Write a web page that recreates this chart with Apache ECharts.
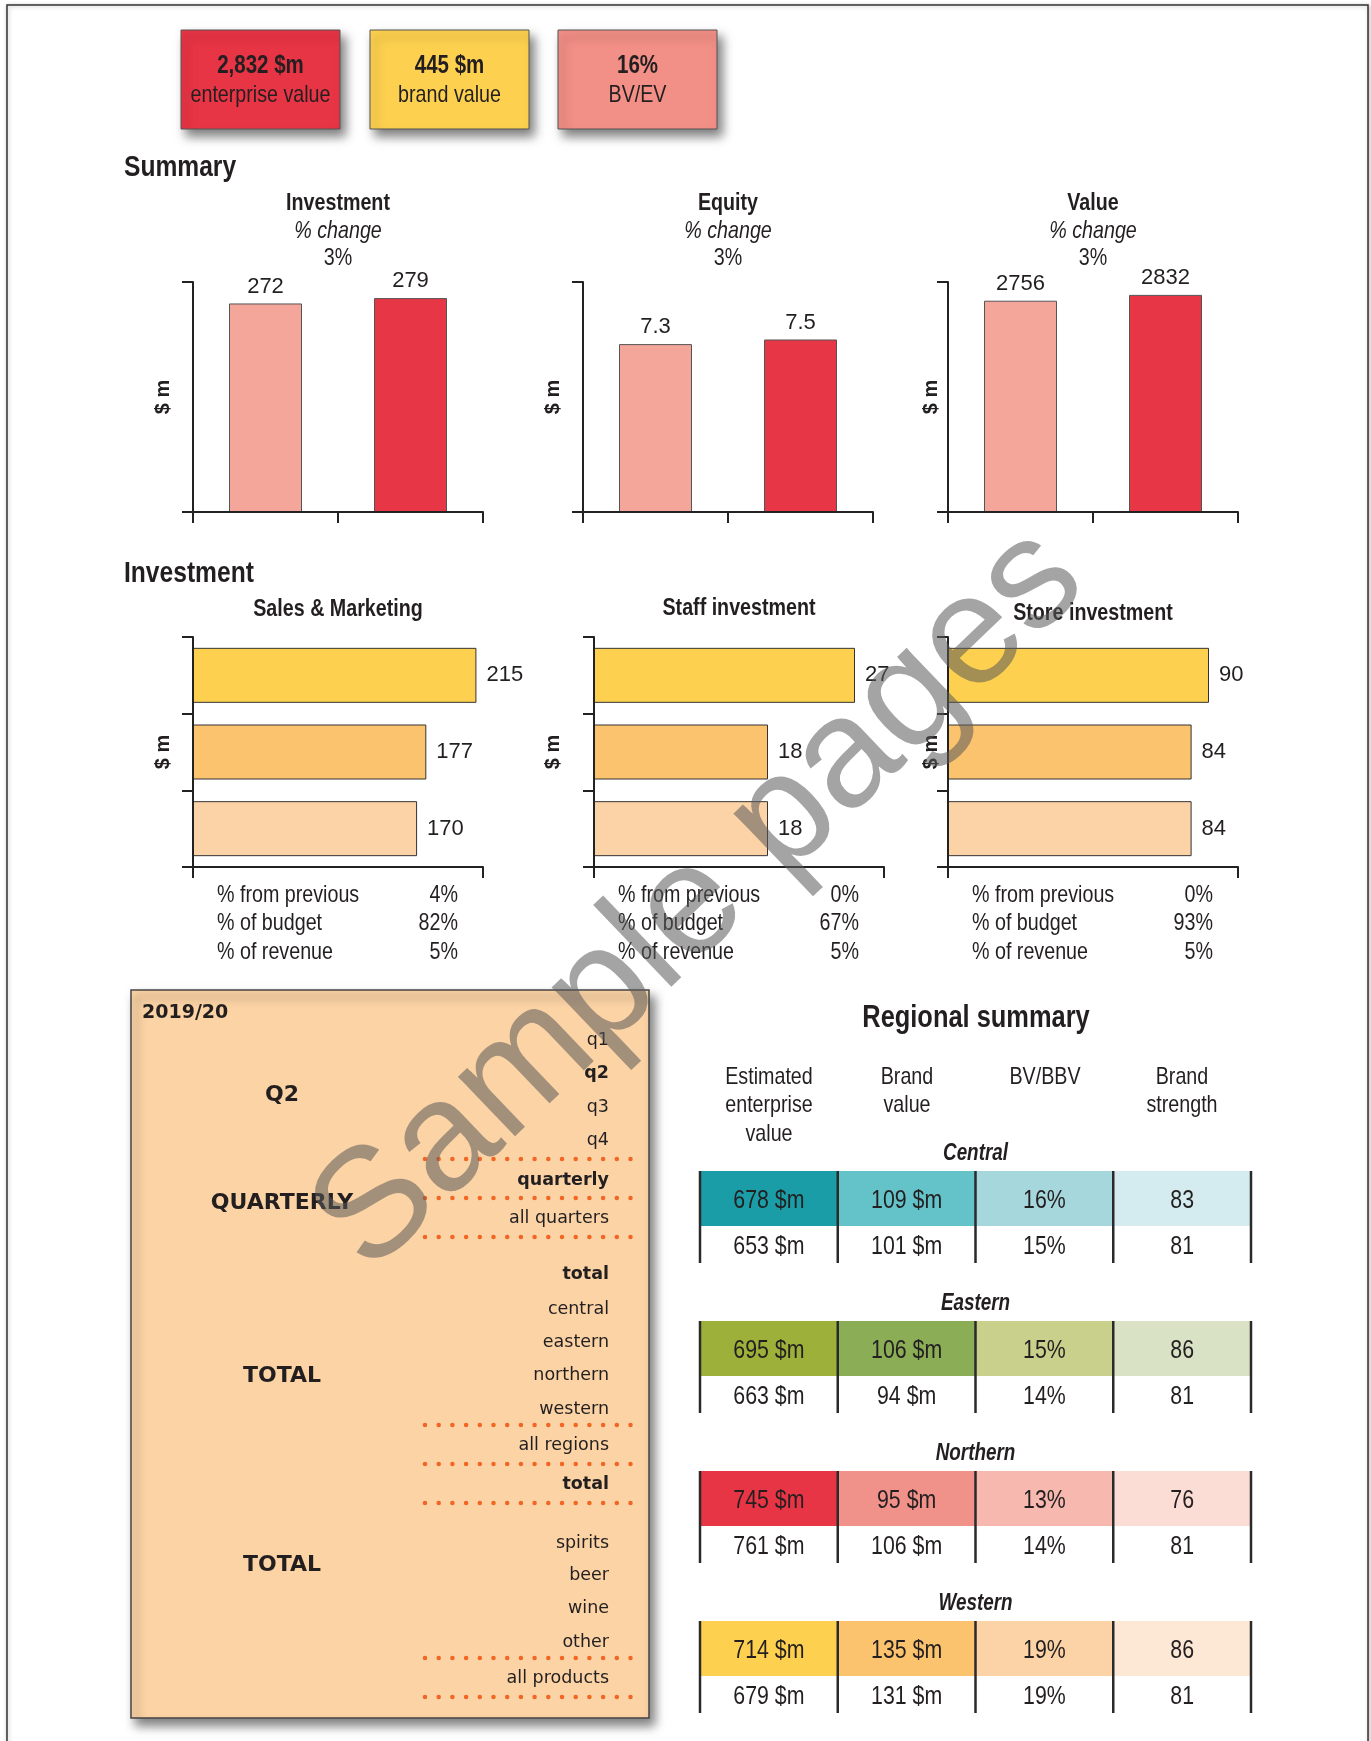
<!DOCTYPE html>
<html><head><meta charset="utf-8">
<script src="https://cdn.jsdelivr.net/npm/echarts@6/dist/echarts.min.js"></script>
<style>html,body{margin:0;padding:0;background:#fff}#c{width:1371px;height:1741px}</style>
</head><body><div id="c"></div>
<script>
// ---------------- data ----------------
const kpiValues = ['2,832 $m', '445 $m', '16%'];
const kpiLabels = ['enterprise value', 'brand value', 'BV/EV'];

const summaryTitles = ['Investment', 'Equity', 'Value'];
const summaryChange = ['3%', '3%', '3%'];
const summaryPeriods = ['Previous', 'Current'];
const investmentSummary = [272, 279];
const equitySummary = [7.3, 7.5];
const valueSummary = [2756, 2832];
const summaryMax = [300, 10, 3000];

const investTitles = ['Sales & Marketing', 'Staff investment', 'Store investment'];
const investCats = ['Current', 'Budget', 'Previous'];
const salesMarketing = [215, 177, 170];
const staffInvestment = [27, 18, 18];
const storeInvestment = [90, 84, 84];
const investMax = [220, 30, 100];
const statLabels = ['% from previous', '% of budget', '% of revenue'];
const salesStats = ['4%', '82%', '5%'];
const staffStats = ['0%', '67%', '5%'];
const storeStats = ['0%', '93%', '5%'];

const panelYear = '2019/20';
const panelGroups = ['Q2', 'QUARTERLY', 'TOTAL', 'TOTAL'];
const panelItems = ['q1', 'q2', 'q3', 'q4', 'quarterly', 'all quarters', 'total', 'central', 'eastern', 'northern', 'western', 'all regions', 'total', 'spirits', 'beer', 'wine', 'other', 'all products'];
const panelBold = ['q2', 'quarterly', 'total'];

const tableTitle = 'Regional summary';
const tableColumns = ['Estimated\nenterprise\nvalue', 'Brand\nvalue', 'BV/BBV', 'Brand\nstrength'];
const regions = ['Central', 'Eastern', 'Northern', 'Western'];
const centralCurrent = ['678 $m', '109 $m', '16%', '83'];
const centralPrevious = ['653 $m', '101 $m', '15%', '81'];
const easternCurrent = ['695 $m', '106 $m', '15%', '86'];
const easternPrevious = ['663 $m', '94 $m', '14%', '81'];
const northernCurrent = ['745 $m', '95 $m', '13%', '76'];
const northernPrevious = ['761 $m', '106 $m', '14%', '81'];
const westernCurrent = ['714 $m', '135 $m', '19%', '86'];
const westernPrevious = ['679 $m', '131 $m', '19%', '81'];

// ---------------- styles / layout ----------------
const FONT = '"Liberation Sans Narrow","Arial Narrow","Liberation Sans",Arial,sans-serif';
const PFONT = '"DejaVu Sans",Verdana,sans-serif';
const NARROW = 0.82;
const INK = '#231F20';
const AX = { color: '#222', width: 2 };
const summaryColors = ['#F4A69B', '#E73646'];
const investColors = ['#FDD14F', '#FCC36F', '#FBD3A6'];
const regionColors = [
  ['#1A9DA6', '#64C3C9', '#A6D7DC', '#D4ECEF'],
  ['#9DB13A', '#8AAD56', '#C9D08B', '#D9E2C4'],
  ['#E83545', '#F0918A', '#F6B8AF', '#FBDDD6'],
  ['#FDD14F', '#FCC36F', '#FBD3A6', '#FCE8D4']
];

const chart = echarts.init(document.getElementById('c'), null, { renderer: 'canvas' });

function txt(x, y, text, o) {
  o = o || {};
  const fam = o.family || FONT;
  return {
    type: 'text', x: x, y: y, z: o.z || 10,
    scaleX: o.scaleX != null ? o.scaleX : (fam === FONT ? NARROW : 1),
    style: {
      text: text, fill: o.fill || INK,
      fontFamily: fam, fontSize: o.size || 24,
      fontWeight: o.weight || 'normal', fontStyle: o.style || 'normal',
      align: o.align || 'left', verticalAlign: o.valign || 'middle',
      lineHeight: o.lh
    }
  };
}

const grids = [], xAxes = [], yAxes = [], series = [], graphics = [];

// page border
graphics.push({ type: 'rect', z: 1, shape: { x: 7, y: 5, width: 1361, height: 1760 },
  style: { fill: '#fff', stroke: '#333', lineWidth: 1.5, shadowBlur: 4, shadowColor: 'rgba(0,0,0,0.25)', shadowOffsetX: 1, shadowOffsetY: 1 } });

// KPI boxes
const kpiX = [181, 370, 558];
const kpiFill = ['#E83545', '#FDD14F', '#F28F86'];
kpiValues.forEach((v, i) => {
  graphics.push({ type: 'rect', z: 5, shape: { x: kpiX[i], y: 30, width: 159, height: 99 },
    style: { fill: kpiFill[i], stroke: '#555', lineWidth: 1, shadowBlur: 10, shadowColor: 'rgba(0,0,0,0.5)', shadowOffsetX: 5, shadowOffsetY: 7 } });
  graphics.push(txt(kpiX[i] + 79.5, 66, v, { align: 'center', weight: 'bold', size: 25 }));
  graphics.push(txt(kpiX[i] + 79.5, 95, kpiLabels[i], { align: 'center', size: 24 }));
});

graphics.push(txt(124, 168, 'Summary', { weight: 'bold', size: 30 }));
graphics.push(txt(124, 574, 'Investment', { weight: 'bold', size: 30 }));

const tickStyle = { show: true, length: 11, lineStyle: AX };
const nameStyle = { fontFamily: FONT, fontWeight: 'bold', fontSize: 20, color: INK };

// Summary vertical bar charts
const sumLeft = [193, 583, 948];
const sumNameGap = [20, 20, 7];
const sumData = [investmentSummary, equitySummary, valueSummary];
sumData.forEach((d, i) => {
  grids.push({ left: sumLeft[i], top: 282, width: 290, height: 230 });
  xAxes.push({ type: 'category', gridIndex: grids.length - 1, data: summaryPeriods, z: 5, boundaryGap: true,
    axisLine: { show: true, lineStyle: AX }, axisTick: { show: true, alignWithLabel: false, interval: 0, length: 11, lineStyle: AX }, axisLabel: { show: false } });
  yAxes.push({ type: 'value', gridIndex: grids.length - 1, min: 0, max: summaryMax[i], interval: summaryMax[i], z: 5,
    axisLine: { show: true, lineStyle: AX }, axisTick: tickStyle,
    axisLabel: { show: false }, splitLine: { show: false },
    name: '$ m', nameLocation: 'middle', nameGap: sumNameGap[i], nameRotate: 90, nameTextStyle: nameStyle });
  series.push({ type: 'bar', xAxisIndex: xAxes.length - 1, yAxisIndex: yAxes.length - 1, barWidth: 73,
    data: d.map((v, k) => ({ value: v, itemStyle: { color: summaryColors[k] } })),
    itemStyle: { borderColor: '#555', borderWidth: 1 },
    label: { show: true, position: 'top', distance: 6, fontFamily: FONT, fontSize: 22, color: INK } });
  const cx = sumLeft[i] + 145;
  graphics.push(txt(cx, 203, summaryTitles[i], { align: 'center', weight: 'bold', size: 24 }));
  graphics.push(txt(cx, 231, '% change', { align: 'center', style: 'italic', size: 24 }));
  graphics.push(txt(cx, 258, summaryChange[i], { align: 'center', size: 24 }));
});

// Investment horizontal bar charts
const invLeft = [193, 594, 948];
const invNameGap = [20, 31, 7];
const invData = [salesMarketing, staffInvestment, storeInvestment];
const invStats = [salesStats, staffStats, storeStats];
const invTitleY = [609, 608, 613];
invData.forEach((d, i) => {
  grids.push({ left: invLeft[i], top: 637, width: 290, height: 230 });
  xAxes.push({ type: 'value', gridIndex: grids.length - 1, min: 0, max: investMax[i], interval: investMax[i], z: 5,
    axisLine: { show: true, lineStyle: AX }, axisTick: tickStyle,
    axisLabel: { show: false }, splitLine: { show: false } });
  yAxes.push({ type: 'category', gridIndex: grids.length - 1, data: investCats, inverse: true, z: 5, boundaryGap: true,
    axisLine: { show: true, lineStyle: AX }, axisTick: { show: true, alignWithLabel: false, interval: 0, length: 11, lineStyle: AX }, axisLabel: { show: false },
    name: '$ m', nameLocation: 'middle', nameGap: invNameGap[i], nameRotate: 90, nameTextStyle: nameStyle });
  series.push({ type: 'bar', xAxisIndex: xAxes.length - 1, yAxisIndex: yAxes.length - 1, barWidth: 55,
    data: d.map((v, k) => ({ value: v, itemStyle: { color: investColors[k] } })),
    itemStyle: { borderColor: '#333', borderWidth: 1 },
    label: { show: true, position: 'right', distance: 10, fontFamily: FONT, fontSize: 22, color: INK } });
  graphics.push(txt(invLeft[i] + 145, invTitleY[i], investTitles[i], { align: 'center', weight: 'bold', size: 24 }));
  statLabels.forEach((s, k) => {
    graphics.push(txt(invLeft[i] + 24, 895 + k * 28.5, s, { size: 24 }));
    graphics.push(txt(invLeft[i] + 265, 895 + k * 28.5, invStats[i][k], { size: 24, align: 'right' }));
  });
});

// Left panel
graphics.push({ type: 'rect', z: 5, shape: { x: 131, y: 990, width: 518, height: 728 },
  style: { fill: '#FBD3A5', stroke: '#444', lineWidth: 1.5, shadowBlur: 10, shadowColor: 'rgba(0,0,0,0.5)', shadowOffsetX: 5, shadowOffsetY: 7 } });
graphics.push(txt(142, 1013, panelYear, { family: PFONT, weight: 'bold', size: 19 }));
const groupY = [1095, 1203, 1376, 1565];
panelGroups.forEach((g, i) => graphics.push(txt(282, groupY[i], g, { family: PFONT, weight: 'bold', size: 22, align: 'center' })));
const itemY = [1040, 1073, 1107, 1140, 1180, 1218, 1274, 1309, 1342, 1375, 1409, 1445, 1484, 1543, 1575, 1608, 1642, 1678];
panelItems.forEach((t, i) => graphics.push(txt(609, itemY[i], t,
  { family: PFONT, size: 17.5, align: 'right', weight: panelBold.indexOf(t) >= 0 ? 'bold' : 'normal' })));
const dotY = [1159, 1198, 1237, 1425, 1464, 1503, 1658, 1697];
dotY.forEach(y => graphics.push({ type: 'line', z: 8, shape: { x1: 425, y1: y, x2: 631, y2: y },
  style: { stroke: '#F26522', lineWidth: 4.5, lineCap: 'round', lineDash: [0, 13.7] } }));

// Regional summary table
graphics.push(txt(976, 1018, tableTitle, { align: 'center', weight: 'bold', size: 31 }));
const colCx = [769, 907, 1045, 1182];
tableColumns.forEach((c, i) => graphics.push(txt(colCx[i], 1063, c, { align: 'center', valign: 'top', size: 24, lh: 28.5 })));

const regionRows = [[centralCurrent, centralPrevious], [easternCurrent, easternPrevious], [northernCurrent, northernPrevious], [westernCurrent, westernPrevious]];
const ROW1 = 55 / 150, ROW2 = 37 / 150;
const cells = [];
regionRows.forEach((rows, b) => rows.forEach((row, r) => row.forEach((t, c) => {
  cells.push({ value: [c, b, r], text: t, color: r === 0 ? regionColors[b][c] : 'rgba(0,0,0,0)', region: regions[b] });
})));
grids.push({ left: 700, top: 1171, width: 551, height: (3 + ROW1 + ROW2) * 150 });
xAxes.push({ type: 'category', gridIndex: grids.length - 1, data: tableColumns, show: false });
yAxes.push({ type: 'value', gridIndex: grids.length - 1, min: 0, max: 3 + ROW1 + ROW2, inverse: true, show: false });
series.push({
  type: 'custom', xAxisIndex: xAxes.length - 1, yAxisIndex: yAxes.length - 1, z: 6,
  data: cells,
  renderItem: function (params, api) {
    const cell = cells[params.dataIndex];
    const c = api.value(0), b = api.value(1), r = api.value(2);
    const y0 = b + (r === 0 ? 0 : ROW1), y1 = b + (r === 0 ? ROW1 : ROW1 + ROW2);
    const p0 = api.coord([c, y0]), p1 = api.coord([c, y1]);
    const bw = api.size([1, 0])[0];
    const x0 = p0[0] - bw / 2, x1 = p0[0] + bw / 2;
    const lineStyle = { stroke: '#2a2a2a', lineWidth: 2.5 };
    const ch = [
      { type: 'rect', shape: { x: x0, y: p0[1], width: bw, height: p1[1] - p0[1] }, style: { fill: cell.color } },
      { type: 'text', x: p0[0], y: (p0[1] + p1[1]) / 2 + 2, scaleX: NARROW,
        style: { text: cell.text, fill: INK, fontFamily: FONT, fontSize: 26, align: 'center', verticalAlign: 'middle' } },
      { type: 'line', shape: { x1: x0, y1: p0[1], x2: x0, y2: p1[1] }, style: lineStyle }
    ];
    if (c === 3) ch.push({ type: 'line', shape: { x1: x1, y1: p0[1], x2: x1, y2: p1[1] }, style: lineStyle });
    if (c === 1 && r === 0) ch.push({ type: 'text', x: x1, y: p0[1] - 17, scaleX: NARROW,
      style: { text: cell.region, fill: INK, fontFamily: FONT, fontSize: 23, fontWeight: 'bold', fontStyle: 'italic', align: 'center', verticalAlign: 'middle' } });
    return { type: 'group', children: ch };
  }
});

// watermark
graphics.push({ type: 'text', x: 700, y: 900, rotation: 0.763, z: 100,
  style: { text: 'Sample pages', fill: 'rgba(90,90,90,0.55)', fontFamily: '"Liberation Sans",Arial,sans-serif', fontSize: 156, align: 'center', verticalAlign: 'middle' } });

chart.setOption({
  animation: false,
  backgroundColor: '#fff',
  grid: grids, xAxis: xAxes, yAxis: yAxes, series: series,
  graphic: { elements: graphics }
});
</script></body></html>
